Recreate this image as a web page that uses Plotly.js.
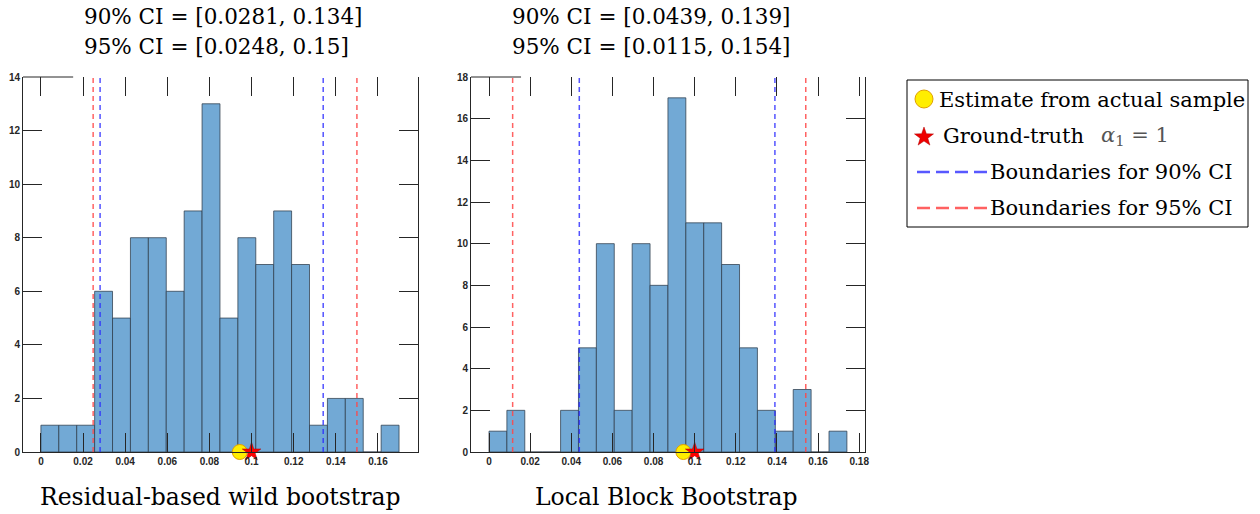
<!DOCTYPE html>
<html><head><meta charset="utf-8">
<script src="https://cdn.plot.ly/plotly-3.0.1.min.js"></script>
<style>html,body{margin:0;padding:0;background:#fff}</style>
</head><body><div id="chart" style="width:1260px;height:514px"></div>
<script>
// ---- data ----
const leftBinStart = 0;
const leftBinWidth = 0.0085;
const leftCounts = [1,1,1,6,5,8,8,6,9,13,5,8,7,9,7,1,2,2,0,1];
const rightBinStart = 0;
const rightBinWidth = 0.0087;
const rightCounts = [1,2,0,0,2,5,10,2,10,8,17,11,11,9,5,2,1,3,0,1];
const leftCI90 = [0.0281, 0.134];
const leftCI95 = [0.0248, 0.15];
const rightCI90 = [0.0439, 0.139];
const rightCI95 = [0.0115, 0.154];
const leftEstimate = 0.0944;
const rightEstimate = 0.0945;
const groundTruth = 0.1;
const leftXTicks = [0,0.02,0.04,0.06,0.08,0.1,0.12,0.14,0.16];
const rightXTicks = [0,0.02,0.04,0.06,0.08,0.1,0.12,0.14,0.16,0.18];
const leftYTicks = [0,2,4,6,8,10,12,14];
const rightYTicks = [0,2,4,6,8,10,12,14,16,18];
const panelNames = ['Residual-based wild bootstrap', 'Local Block Bootstrap'];
const legendLabels = ['Estimate from actual sample', 'Ground-truth', 'Boundaries for 90% CI', 'Boundaries for 95% CI'];

// ---- helpers ----
const W = 1260, H = 514;
const px = x => x / W;
const py = y => 1 - y / H;
const centers = (start, w, n) => Array.from({length: n}, (_, i) => start + (i + 0.5) * w);

const barColor = '#72a9d5';
const barLine = 'rgba(45,60,75,0.75)';
const axisColor = '#262626';
const red = 'rgba(255,70,70,0.85)';
const blue = 'rgba(40,40,255,0.8)';
const serif = 'DejaVu Serif';

const traces = [
  {type:'bar', x: centers(leftBinStart, leftBinWidth, leftCounts.length), y: leftCounts, width: leftBinWidth,
   marker:{color: barColor, line:{color: barLine, width: 1}}, xaxis:'x', yaxis:'y', hoverinfo:'skip'},
  {type:'bar', x: centers(rightBinStart, rightBinWidth, rightCounts.length), y: rightCounts, width: rightBinWidth,
   marker:{color: barColor, line:{color: barLine, width: 1}}, xaxis:'x2', yaxis:'y2', hoverinfo:'skip'},
  {type:'scatter', mode:'markers', x:[leftEstimate], y:[0], xaxis:'x', yaxis:'y', cliponaxis:false,
   marker:{symbol:'circle', size:15, color:'#ffee00', line:{color:'#e0a000', width:1}}},
  {type:'scatter', mode:'markers', x:[groundTruth], y:[0], xaxis:'x', yaxis:'y', cliponaxis:false,
   marker:{symbol:'star', size:14, color:'#ff0000', line:{color:'#b00000', width:0.5}}},
  {type:'scatter', mode:'markers', x:[rightEstimate], y:[0], xaxis:'x2', yaxis:'y2', cliponaxis:false,
   marker:{symbol:'circle', size:15, color:'#ffee00', line:{color:'#e0a000', width:1}}},
  {type:'scatter', mode:'markers', x:[groundTruth], y:[0], xaxis:'x2', yaxis:'y2', cliponaxis:false,
   marker:{symbol:'star', size:14, color:'#ff0000', line:{color:'#b00000', width:0.5}}},
  {type:'scatter', x:[], y:[], xaxis:'x3', yaxis:'y'},
  {type:'scatter', x:[], y:[], xaxis:'x4', yaxis:'y2'}
];

const tickFont = {family:'Liberation Sans', size:10, color:axisColor, weight:'bold'};
function xAx(domain, range, ticks, anchor) {
  return {domain, range, anchor, tickmode:'array', tickvals: ticks, ticks:'inside', ticklen:19, tickwidth:1,
    tickcolor:axisColor, showline:true, linecolor:axisColor, linewidth:1, showgrid:false, zeroline:false,
    tickfont: tickFont, fixedrange:true};
}
function yAx(domain, range, ticks, anchor) {
  return {domain, range, anchor, tickmode:'array', tickvals: ticks, ticks:'inside', ticklen:19, tickwidth:1,
    tickcolor:axisColor, showline:true, mirror:'ticks', linecolor:axisColor, linewidth:1, showgrid:false,
    zeroline:false, tickfont: tickFont, fixedrange:true};
}
function topAx(over, range, ticks, anchor) {
  return {overlaying: over, side:'top', anchor, range, tickmode:'array', tickvals: ticks, ticks:'inside',
    ticklen:19, tickwidth:1, tickcolor:axisColor, showline:false, showticklabels:false, showgrid:false,
    zeroline:false, fixedrange:true};
}

const yDom = [py(452), py(77)];
const layout = {
  width: W, height: H, margin:{l:0, r:0, t:0, b:0}, paper_bgcolor:'#fff', plot_bgcolor:'#fff',
  showlegend:false, hovermode:false,
  xaxis: xAx([px(23), px(418)], [-0.0085, 0.179], leftXTicks, 'y'),
  yaxis: yAx(yDom, [0, 14], leftYTicks, 'x'),
  xaxis2: xAx([px(471), px(865)], [-0.00875, 0.1828], rightXTicks, 'y2'),
  yaxis2: yAx(yDom, [0, 18], rightYTicks, 'x2'),
  xaxis3: topAx('x', [-0.0085, 0.179], leftXTicks, 'y'),
  xaxis4: topAx('x2', [-0.00875, 0.1828], rightXTicks, 'y2'),
  shapes: [], annotations: []
};

// CI boundary lines
function ciLines(xr, yr, ci, color) {
  ci.forEach(v => layout.shapes.push({type:'line', xref: xr, yref: yr + ' domain', x0:v, x1:v, y0:0, y1:1,
    line:{color, width:1.5, dash:'5px,4px'}, layer:'above'}));
}
ciLines('x', 'y', leftCI95, red);
ciLines('x', 'y', leftCI90, blue);
ciLines('x2', 'y2', rightCI95, red);
ciLines('x2', 'y2', rightCI90, blue);

// partial top border
layout.shapes.push({type:'line', xref:'x domain', yref:'y domain', x0:0, x1:0.127, y0:1, y1:1, line:{color:axisColor, width:1}});
layout.shapes.push({type:'line', xref:'x2 domain', yref:'y2 domain', x0:0, x1:0.127, y0:1, y1:1, line:{color:axisColor, width:1}});

// titles
function titleAnn(text, x, y, size, anchor) {
  layout.annotations.push({text, x: px(x), y: py(y), xref:'paper', yref:'paper', xanchor: anchor, yanchor:'middle',
    showarrow:false, font:{family: serif, size, color:'#000'}});
}
titleAnn(`90% CI = [${leftCI90[0]}, ${leftCI90[1]}]`, 82, 16, 21.5, 'left');
titleAnn(`95% CI = [${leftCI95[0]}, ${leftCI95[1]}]`, 82, 46, 21.5, 'left');
titleAnn(`90% CI = [${rightCI90[0]}, ${rightCI90[1]}]`, 510, 16, 21.5, 'left');
titleAnn(`95% CI = [${rightCI95[0]}, ${rightCI95[1]}]`, 510, 46, 21.5, 'left');
titleAnn(panelNames[0], 221, 497, 23.5, 'center');
titleAnn(panelNames[1], 666, 497, 23.5, 'center');

// legend box
layout.shapes.push({type:'rect', xref:'paper', yref:'paper', x0:px(907), x1:px(1248), y0:py(227), y1:py(80),
  line:{color:'#000', width:1}, fillcolor:'#fff', layer:'above'});
layout.shapes.push({type:'circle', xref:'paper', yref:'paper', x0:px(915), x1:px(933), y0:py(108), y1:py(90),
  line:{color:'#e0a000', width:1}, fillcolor:'#ffee00', layer:'above'});
(function star(cx, cy, R, r) {
  let d = '';
  for (let i = 0; i < 10; i++) {
    const a = -Math.PI / 2 + i * Math.PI / 5;
    const rr = i % 2 ? r : R;
    d += (i ? 'L' : 'M') + px(cx + rr * Math.cos(a)).toFixed(5) + ',' + py(cy + rr * Math.sin(a)).toFixed(5);
  }
  layout.shapes.push({type:'path', xref:'paper', yref:'paper', path: d + 'Z', fillcolor:'#ee0000',
    line:{color:'#b00000', width:0.5}, layer:'above'});
})(924, 137, 10, 4);
layout.shapes.push({type:'line', xref:'paper', yref:'paper', x0:px(917), x1:px(988), y0:py(172), y1:py(172),
  line:{color:'rgba(70,70,255,0.9)', width:2.5, dash:'13px,6px'}, layer:'above'});
layout.shapes.push({type:'line', xref:'paper', yref:'paper', x0:px(917), x1:px(988), y0:py(208), y1:py(208),
  line:{color:'rgba(255,80,80,0.9)', width:2.5, dash:'13px,6px'}, layer:'above'});
titleAnn(legendLabels[0], 937, 100, 21, 'left');
titleAnn(legendLabels[1], 941, 136, 21, 'left');
layout.annotations.push({text:'<i>α</i><sub>1</sub> = 1', x:px(1099), y:py(136), xref:'paper', yref:'paper',
  xanchor:'left', yanchor:'middle', showarrow:false, font:{family: serif, size:21, color:'#555'}});
titleAnn(legendLabels[2], 988, 172, 21, 'left');
titleAnn(legendLabels[3], 988, 208, 21, 'left');

Plotly.newPlot('chart', traces, layout, {staticPlot:true, displayModeBar:false});
</script>
</body></html>
